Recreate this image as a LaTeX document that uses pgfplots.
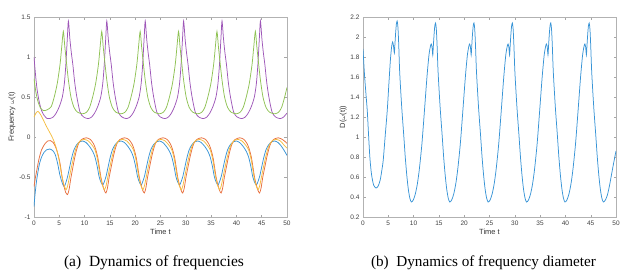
\documentclass[border=0pt]{standalone}
\usepackage{fontspec}
\setmainfont{Liberation Serif}
\setsansfont{Liberation Sans}
\usepackage{pgfplots}
\pgfplotsset{compat=1.18}
\definecolor{mblue}{rgb}{0.22,0.58,0.84}
\definecolor{morange}{rgb}{0.91,0.43,0.24}
\definecolor{myellow}{rgb}{0.96,0.74,0.25}
\definecolor{mpurple}{rgb}{0.62,0.34,0.72}
\definecolor{mgreen}{rgb}{0.56,0.76,0.33}
\pgfplotsset{
  mstyle/.style={
    scale only axis, width=253pt, height=200pt,
    xmin=0, xmax=50, xtick={0,5,...,50},
    tick align=inside, major tick length=2.5pt,
    axis line style={gray!60, line width=0.4pt},
    every tick/.style={gray!70, line width=0.4pt},
    ticklabel style={font=\sffamily\fontsize{6.5}{7}\selectfont, text=black!75},
    label style={font=\sffamily\fontsize{7.5}{8}\selectfont, text=black!80},
    /pgf/number format/assume math mode=true,
    /pgf/number format/fixed,
    xlabel={Time t},
    xlabel style={yshift=3pt},
    ylabel style={yshift=-3pt},
    every axis plot/.append style={line width=0.75pt, smooth, tension=0.45, no markers},
  }
}
\begin{document}
\begin{tikzpicture}
\useasboundingbox (0,0) rectangle (633pt,277pt);
\begin{axis}[mstyle, name=L, at={(34pt,60pt)}, anchor=south west,
  ymin=-1, ymax=1.5, ytick={-1,-0.5,0,0.5,1,1.5},
  ylabel={Frequency $\omega$(t)}]
% blue
\addplot[color=mblue] coordinates {
(0,-0.87)(0.2,-0.72)(0.5,-0.55)(0.8,-0.43)(1.1,-0.33)(1.5,-0.25)(2.0,-0.19)(2.5,-0.16)(3.1,-0.15)(3.7,-0.17)(4.2,-0.22)(4.7,-0.34)(5.1,-0.47)(5.5,-0.56)(5.75,-0.60)(6.0,-0.62)
(6.30,-0.57)(6.66,-0.49)(7.00,-0.39)(7.45,-0.26)(7.90,-0.16)(8.40,-0.10)(9.00,-0.06)(9.60,-0.05)(10.30,-0.07)(11.00,-0.12)(11.60,-0.18)(12.05,-0.25)(12.50,-0.37)(12.85,-0.49)(13.20,-0.56)(13.59,-0.60)
(13.89,-0.56)(14.25,-0.49)(14.59,-0.39)(15.04,-0.26)(15.49,-0.16)(15.99,-0.10)(16.59,-0.06)(17.19,-0.05)(17.89,-0.07)(18.59,-0.12)(19.19,-0.18)(19.64,-0.25)(20.09,-0.37)(20.44,-0.49)(20.79,-0.56)(21.18,-0.60)
(21.48,-0.56)(21.84,-0.49)(22.18,-0.39)(22.63,-0.26)(23.08,-0.16)(23.58,-0.10)(24.18,-0.06)(24.78,-0.05)(25.48,-0.07)(26.18,-0.12)(26.78,-0.18)(27.23,-0.25)(27.68,-0.37)(28.03,-0.49)(28.38,-0.56)(28.77,-0.60)
(29.07,-0.56)(29.43,-0.49)(29.77,-0.39)(30.22,-0.26)(30.67,-0.16)(31.17,-0.10)(31.77,-0.06)(32.37,-0.05)(33.07,-0.07)(33.77,-0.12)(34.37,-0.18)(34.82,-0.25)(35.27,-0.37)(35.62,-0.49)(35.97,-0.56)(36.36,-0.60)
(36.66,-0.56)(37.02,-0.49)(37.36,-0.39)(37.81,-0.26)(38.26,-0.16)(38.76,-0.10)(39.36,-0.06)(39.96,-0.05)(40.66,-0.07)(41.36,-0.12)(41.96,-0.18)(42.41,-0.25)(42.86,-0.37)(43.21,-0.49)(43.56,-0.56)(43.95,-0.60)
(44.25,-0.56)(44.61,-0.49)(44.95,-0.39)(45.40,-0.26)(45.85,-0.16)(46.35,-0.10)(46.95,-0.06)(47.55,-0.05)(48.25,-0.07)(48.95,-0.12)(49.55,-0.18)(50.00,-0.23)
};
% orange
\addplot[color=morange] coordinates {
(0,-0.62)(0.3,-0.50)(0.6,-0.40)(1.0,-0.27)(1.5,-0.16)(2.1,-0.09)(2.7,-0.05)(3.2,-0.045)(3.8,-0.07)(4.3,-0.13)(4.8,-0.23)(5.2,-0.35)(5.55,-0.50)(5.9,-0.61)(6.25,-0.69)(6.62,-0.72)
(6.92,-0.66)(7.27,-0.52)(7.62,-0.40)(8.07,-0.25)(8.42,-0.16)(8.82,-0.08)(9.42,-0.03)(10.32,-0.01)(11.12,-0.03)(11.72,-0.08)(12.12,-0.14)(12.62,-0.26)(13.22,-0.50)(13.62,-0.61)(13.92,-0.67)(14.21,-0.70)
(14.51,-0.64)(14.86,-0.50)(15.21,-0.39)(15.66,-0.25)(16.01,-0.16)(16.41,-0.08)(17.01,-0.03)(17.91,-0.01)(18.71,-0.03)(19.31,-0.08)(19.71,-0.14)(20.21,-0.26)(20.81,-0.50)(21.21,-0.61)(21.51,-0.67)(21.80,-0.70)
(22.10,-0.64)(22.45,-0.50)(22.80,-0.39)(23.25,-0.25)(23.60,-0.16)(24.00,-0.08)(24.60,-0.03)(25.50,-0.01)(26.30,-0.03)(26.90,-0.08)(27.30,-0.14)(27.80,-0.26)(28.40,-0.50)(28.80,-0.61)(29.10,-0.67)(29.39,-0.70)
(29.69,-0.64)(30.04,-0.50)(30.39,-0.39)(30.84,-0.25)(31.19,-0.16)(31.59,-0.08)(32.19,-0.03)(33.09,-0.01)(33.89,-0.03)(34.49,-0.08)(34.89,-0.14)(35.39,-0.26)(35.99,-0.50)(36.39,-0.61)(36.69,-0.67)(36.98,-0.70)
(37.28,-0.64)(37.63,-0.50)(37.98,-0.39)(38.43,-0.25)(38.78,-0.16)(39.18,-0.08)(39.78,-0.03)(40.68,-0.01)(41.48,-0.03)(42.08,-0.08)(42.48,-0.14)(42.98,-0.26)(43.58,-0.50)(43.98,-0.61)(44.28,-0.67)(44.57,-0.70)
(44.87,-0.64)(45.22,-0.50)(45.57,-0.39)(46.02,-0.25)(46.37,-0.16)(46.77,-0.08)(47.37,-0.03)(48.27,-0.01)(49.07,-0.03)(49.50,-0.05)(50.00,-0.08)
};
% yellow
\addplot[color=myellow] coordinates {
(0,0.25)(0.4,0.30)(0.8,0.32)(1.3,0.28)(1.8,0.22)(2.4,0.14)(3.0,0.07)(3.5,0.01)(4.0,-0.06)(4.5,-0.16)(5.0,-0.30)(5.4,-0.45)(5.8,-0.57)(6.1,-0.63)(6.35,-0.66)
(6.65,-0.61)(7.00,-0.50)(7.35,-0.39)(7.80,-0.26)(8.25,-0.15)(8.65,-0.09)(9.25,-0.04)(9.95,-0.03)(10.75,-0.05)(11.45,-0.10)(12.05,-0.16)(12.55,-0.28)(13.05,-0.47)(13.45,-0.59)(13.75,-0.64)(13.94,-0.66)
(14.24,-0.61)(14.59,-0.50)(14.94,-0.39)(15.39,-0.26)(15.84,-0.15)(16.24,-0.09)(16.84,-0.04)(17.54,-0.03)(18.34,-0.05)(19.04,-0.10)(19.64,-0.16)(20.14,-0.28)(20.64,-0.47)(21.04,-0.59)(21.34,-0.64)(21.53,-0.66)
(21.83,-0.61)(22.18,-0.50)(22.53,-0.39)(22.98,-0.26)(23.43,-0.15)(23.83,-0.09)(24.43,-0.04)(25.13,-0.03)(25.93,-0.05)(26.63,-0.10)(27.23,-0.16)(27.73,-0.28)(28.23,-0.47)(28.63,-0.59)(28.93,-0.64)(29.12,-0.66)
(29.42,-0.61)(29.77,-0.50)(30.12,-0.39)(30.57,-0.26)(31.02,-0.15)(31.42,-0.09)(32.02,-0.04)(32.72,-0.03)(33.52,-0.05)(34.22,-0.10)(34.82,-0.16)(35.32,-0.28)(35.82,-0.47)(36.22,-0.59)(36.52,-0.64)(36.71,-0.66)
(37.01,-0.61)(37.36,-0.50)(37.71,-0.39)(38.16,-0.26)(38.61,-0.15)(39.01,-0.09)(39.61,-0.04)(40.31,-0.03)(41.11,-0.05)(41.81,-0.10)(42.41,-0.16)(42.91,-0.28)(43.41,-0.47)(43.81,-0.59)(44.11,-0.64)(44.30,-0.66)
(44.60,-0.61)(44.95,-0.50)(45.30,-0.39)(45.75,-0.26)(46.20,-0.15)(46.60,-0.09)(47.20,-0.04)(47.90,-0.03)(48.70,-0.05)(49.40,-0.10)(50.00,-0.14)
};
% purple
\addplot[color=mpurple] coordinates {
(0,1.00)(0.3,0.78)(0.6,0.60)(1.0,0.45)(1.5,0.33)(2.0,0.27)(2.6,0.23)(3.1,0.23)
(3.80,0.25)(4.40,0.30)(5.00,0.38)(5.60,0.50)(6.00,0.67)(6.30,0.91)(6.60,1.25)(6.80,1.45)(7.10,1.22)(7.40,1.04)(7.67,0.91)(8.05,0.68)(8.47,0.50)(9.10,0.31)(9.80,0.25)(10.69,0.23)
(11.39,0.25)(11.99,0.30)(12.59,0.38)(13.19,0.50)(13.59,0.67)(13.89,0.91)(14.19,1.25)(14.39,1.45)(14.69,1.22)(14.99,1.04)(15.26,0.91)(15.64,0.68)(16.06,0.50)(16.69,0.31)(17.39,0.25)(18.28,0.23)
(18.98,0.25)(19.58,0.30)(20.18,0.38)(20.78,0.50)(21.18,0.67)(21.48,0.91)(21.78,1.25)(21.98,1.45)(22.28,1.22)(22.58,1.04)(22.85,0.91)(23.23,0.68)(23.65,0.50)(24.28,0.31)(24.98,0.25)(25.87,0.23)
(26.57,0.25)(27.17,0.30)(27.77,0.38)(28.37,0.50)(28.77,0.67)(29.07,0.91)(29.37,1.25)(29.57,1.45)(29.87,1.22)(30.17,1.04)(30.44,0.91)(30.82,0.68)(31.24,0.50)(31.87,0.31)(32.57,0.25)(33.46,0.23)
(34.16,0.25)(34.76,0.30)(35.36,0.38)(35.96,0.50)(36.36,0.67)(36.66,0.91)(36.96,1.25)(37.16,1.45)(37.46,1.22)(37.76,1.04)(38.03,0.91)(38.41,0.68)(38.83,0.50)(39.46,0.31)(40.16,0.25)(41.05,0.23)
(41.75,0.25)(42.35,0.30)(42.95,0.38)(43.55,0.50)(43.95,0.67)(44.25,0.91)(44.55,1.25)(44.75,1.45)(45.05,1.22)(45.35,1.04)(45.62,0.91)(46.00,0.68)(46.42,0.50)(47.05,0.31)(47.75,0.25)(48.64,0.23)(49.34,0.25)(50.00,0.30)
};
% green
\addplot[color=mgreen] coordinates {
(0,0.73)(0.4,0.55)(0.8,0.44)(1.3,0.36)(1.9,0.33)(2.6,0.34)(3.4,0.38)
(4.00,0.50)(4.60,0.67)(5.15,0.91)(5.50,1.14)(5.80,1.32)(6.10,1.12)(6.45,0.91)(6.80,0.71)(7.30,0.50)(7.90,0.37)(8.60,0.31)(9.59,0.29)
(10.39,0.31)(10.99,0.37)(11.59,0.50)(12.19,0.67)(12.74,0.91)(13.09,1.14)(13.39,1.32)(13.69,1.12)(14.04,0.91)(14.39,0.71)(14.89,0.50)(15.49,0.37)(16.19,0.31)(17.18,0.29)
(17.98,0.31)(18.58,0.37)(19.18,0.50)(19.78,0.67)(20.33,0.91)(20.68,1.14)(20.98,1.32)(21.28,1.12)(21.63,0.91)(21.98,0.71)(22.48,0.50)(23.08,0.37)(23.78,0.31)(24.77,0.29)
(25.57,0.31)(26.17,0.37)(26.77,0.50)(27.37,0.67)(27.92,0.91)(28.27,1.14)(28.57,1.32)(28.87,1.12)(29.22,0.91)(29.57,0.71)(30.07,0.50)(30.67,0.37)(31.37,0.31)(32.36,0.29)
(33.16,0.31)(33.76,0.37)(34.36,0.50)(34.96,0.67)(35.51,0.91)(35.86,1.14)(36.16,1.32)(36.46,1.12)(36.81,0.91)(37.16,0.71)(37.66,0.50)(38.26,0.37)(38.96,0.31)(39.95,0.29)
(40.75,0.31)(41.35,0.37)(41.95,0.50)(42.55,0.67)(43.10,0.91)(43.45,1.14)(43.75,1.32)(44.05,1.12)(44.40,0.91)(44.75,0.71)(45.25,0.50)(45.85,0.37)(46.55,0.31)(47.54,0.29)
(48.34,0.31)(48.94,0.37)(49.54,0.50)(50.00,0.62)
};
\end{axis}
\begin{axis}[mstyle, name=R, at={(363pt,60pt)}, anchor=south west,
  ymin=0.2, ymax=2.2, ytick={0.2,0.4,...,2.2},
  ylabel={D($\omega$(t))}]
\addplot[color=mblue] coordinates {
(0,1.88)(0.3,1.62)(0.6,1.42)(0.86,1.25)(1.1,1.02)(1.38,0.78)(1.7,0.62)(2.1,0.52)(2.57,0.49)(3.0,0.51)(3.4,0.57)(3.7,0.66)(4.0,0.77)(4.4,1.02)(4.8,1.27)(5.1,1.52)(5.4,1.76)(5.65,1.90)(5.85,1.95)(6.0,1.92)(6.2,1.84)(6.3,1.92)(6.45,2.04)(6.6,2.13)(6.75,2.16)
(6.90,2.10)(7.05,1.94)(7.25,1.65)(7.65,1.30)(8.05,1.02)(8.35,0.80)(8.65,0.62)(8.95,0.48)(9.25,0.39)(9.55,0.35)
(9.94,0.37)(10.34,0.43)(10.74,0.53)(11.14,0.68)(11.64,0.93)(12.14,1.26)(12.64,1.60)(13.04,1.82)(13.34,1.91)(13.49,1.93)(13.64,1.90)(13.79,1.82)(13.89,1.90)(14.04,2.02)(14.19,2.11)(14.34,2.14)
(14.49,2.08)(14.64,1.92)(14.84,1.65)(15.24,1.30)(15.64,1.02)(15.94,0.80)(16.24,0.62)(16.54,0.48)(16.84,0.39)(17.14,0.35)(17.53,0.37)(17.93,0.43)(18.33,0.53)(18.73,0.68)(19.23,0.93)(19.73,1.26)(20.23,1.60)(20.63,1.82)(20.93,1.91)(21.08,1.93)(21.23,1.90)(21.38,1.82)(21.48,1.90)(21.63,2.02)(21.78,2.11)(21.93,2.14)
(22.08,2.08)(22.23,1.92)(22.43,1.65)(22.83,1.30)(23.23,1.02)(23.53,0.80)(23.83,0.62)(24.13,0.48)(24.43,0.39)(24.73,0.35)(25.12,0.37)(25.52,0.43)(25.92,0.53)(26.32,0.68)(26.82,0.93)(27.32,1.26)(27.82,1.60)(28.22,1.82)(28.52,1.91)(28.67,1.93)(28.82,1.90)(28.97,1.82)(29.07,1.90)(29.22,2.02)(29.37,2.11)(29.52,2.14)
(29.67,2.08)(29.82,1.92)(30.02,1.65)(30.42,1.30)(30.82,1.02)(31.12,0.80)(31.42,0.62)(31.72,0.48)(32.02,0.39)(32.32,0.35)(32.71,0.37)(33.11,0.43)(33.51,0.53)(33.91,0.68)(34.41,0.93)(34.91,1.26)(35.41,1.60)(35.81,1.82)(36.11,1.91)(36.26,1.93)(36.41,1.90)(36.56,1.82)(36.66,1.90)(36.81,2.02)(36.96,2.11)(37.11,2.14)
(37.26,2.08)(37.41,1.92)(37.61,1.65)(38.01,1.30)(38.41,1.02)(38.71,0.80)(39.01,0.62)(39.31,0.48)(39.61,0.39)(39.91,0.35)(40.30,0.37)(40.70,0.43)(41.10,0.53)(41.50,0.68)(42.00,0.93)(42.50,1.26)(43.00,1.60)(43.40,1.82)(43.70,1.91)(43.85,1.93)(44.00,1.90)(44.15,1.82)(44.25,1.90)(44.40,2.02)(44.55,2.11)(44.70,2.14)
(44.85,2.08)(45.00,1.92)(45.20,1.65)(45.60,1.30)(46.00,1.02)(46.30,0.80)(46.60,0.62)(46.90,0.48)(47.20,0.39)(47.50,0.35)(47.90,0.37)(48.30,0.42)(48.70,0.51)(49.10,0.62)(49.50,0.73)(50.00,0.86)
};
\end{axis}
\node[font=\fontsize{15.5}{17}\selectfont] at ([xshift=120pt,yshift=-46pt]L.south west) {(a)\enspace Dynamics of frequencies};
\node[font=\fontsize{15.2}{17}\selectfont] at ([xshift=120.5pt,yshift=-46pt]R.south west) {(b)\enspace Dynamics of frequency diameter};
\end{tikzpicture}
\end{document}
